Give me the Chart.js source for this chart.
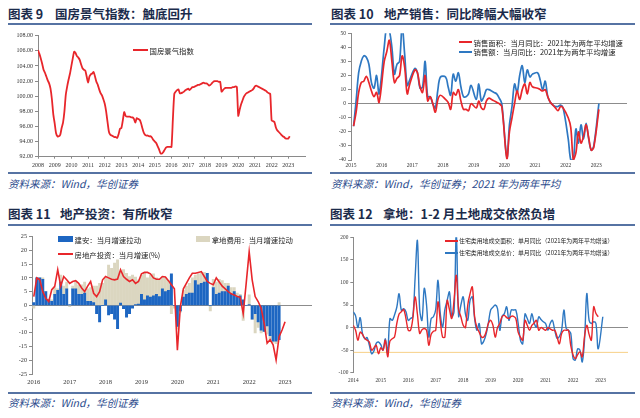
<!DOCTYPE html>
<html>
<head>
<meta charset="utf-8">
<script src="https://cdn.jsdelivr.net/npm/chart.js@4.4.0/dist/chart.umd.min.js"></script>
<style>
  body { margin: 0; background: #fff; width: 640px; height: 418px; position: relative; overflow: hidden;
         font-family: "Noto Sans CJK SC", "Noto Sans", sans-serif; }
  .abs { position: absolute; white-space: nowrap; }
  .title { font-weight: bold; font-size: 12.5px; line-height: 14px; color: #1b2b4b; }
  .rule { height: 2px; background: #5673a3; }
  .src { font-style: italic; font-size: 10.5px; line-height: 12px; color: #2a4a8c; }
  .lg { font-size: 7.4px; line-height: 9px; color: #222; }
  .lg4 { font-size: 5.9px; line-height: 8px; color: #222; }
  canvas { position: absolute; }
</style>
</head>
<body>

<!-- 图表 9 -->
<div class="abs title" style="left:8px;top:7px">图表 9</div>
<div class="abs title" style="left:55px;top:7px">国房景气指数：触底回升</div>
<div class="abs rule" style="left:8px;top:23px;width:304px"></div>
<canvas id="climateChart" width="320" height="144" style="left:0;top:28px"></canvas>
<div class="abs rule" style="left:8px;top:171.5px;width:304px"></div>
<div class="abs src" style="left:8px;top:178px">资料来源：Wind，华创证券</div>

<!-- 图表 10 -->
<div class="abs title" style="left:331px;top:7px">图表 10</div>
<div class="abs title" style="left:384px;top:7px">地产销售：同比降幅大幅收窄</div>
<div class="abs rule" style="left:330px;top:23px;width:305px"></div>
<canvas id="salesChart" width="320" height="144" style="left:320px;top:28px"></canvas>
<div class="abs rule" style="left:330px;top:171.5px;width:305px"></div>
<div class="abs src" style="left:331px;top:178px">资料来源：Wind，华创证券；2021 年为两年平均</div>

<!-- 图表 11 -->
<div class="abs title" style="left:8px;top:207px">图表 11</div>
<div class="abs title" style="left:60px;top:207px">地产投资：有所收窄</div>
<div class="abs rule" style="left:8px;top:223.5px;width:304px"></div>
<canvas id="investChart" width="320" height="164" style="left:0;top:228px"></canvas>
<div class="abs rule" style="left:8px;top:392px;width:304px"></div>
<div class="abs src" style="left:8px;top:397px">资料来源：Wind，华创证券</div>

<!-- 图表 12 -->
<div class="abs title" style="left:330px;top:207px">图表 12</div>
<div class="abs title" style="left:383px;top:207px">拿地：1-2 月土地成交依然负增</div>
<div class="abs rule" style="left:330px;top:223.5px;width:305px"></div>
<canvas id="landChart" width="320" height="164" style="left:320px;top:228px"></canvas>
<div class="abs rule" style="left:330px;top:392px;width:305px"></div>
<div class="abs src" style="left:331px;top:397px">资料来源：Wind，华创证券</div>

<div id="legends"></div>

<script>
// ---- 数据 ----
// 国房景气指数，2008年1月起按月
const climateStart = 2008;
const climateYears = [2008, 2009, 2010, 2011, 2012, 2013, 2014, 2015, 2016, 2017, 2018, 2019, 2020, 2021, 2022, 2023];
const climateIndex = [
  106.1, 105.6, 105.0, 104.3, 103.5, 103.1, 102.6, 102.1, 101.7, 101.0, 99.6, 97.6,
  96.4, 95.1, 94.7, 94.7, 94.9, 95.8, 96.5, 98.0, 100.2, 101.3, 102.2, 103.0,
  104.0, 105.0, 105.9, 105.7, 105.3, 105.1, 104.8, 104.2, 103.7, 103.5, 103.4, 102.6,
  101.8, 102.6, 102.9, 103.0, 103.2, 102.6, 101.9, 101.5, 100.9, 100.4, 100.1, 99.6,
  99.0, 98.0, 96.6, 95.3, 94.9, 94.8, 94.7, 94.6, 94.6, 94.5, 95.0, 95.7,
  95.8, 96.8, 97.9, 97.4, 97.3, 97.3, 97.3, 97.2, 97.2, 97.0, 96.5, 97.1,
  97.0, 96.9, 96.5, 95.8, 95.2, 94.9, 94.8, 94.8, 94.7, 94.7, 94.5, 94.2,
  94.0, 93.8, 93.4, 93.0, 92.5, 92.4, 92.6, 92.9, 93.2, 93.3, 93.3, 93.3,
  93.3, 97.0, 100.3, 100.6, 100.8, 100.9, 100.4, 100.4, 100.5, 100.6, 100.8, 100.9,
  101.0, 100.8, 101.0, 101.2, 101.2, 101.3, 101.4, 101.5, 101.5, 101.6, 101.7, 101.8,
  101.7, 101.7, 101.6, 101.4, 101.5, 101.7, 101.9, 102.0, 102.0, 102.0, 101.9, 101.9,
  100.6, 100.8, 101.0, 101.1, 101.1, 101.1, 101.1, 101.1, 101.2, 101.2, 101.3, 101.2,
  97.4, 98.2, 98.9, 99.4, 99.9, 100.2, 100.4, 100.5, 100.6, 100.7, 100.8, 101.0,
  101.3, 101.4, 101.3, 101.2, 101.1, 101.0, 100.9, 100.8, 100.7, 100.5, 100.4, 100.3,
  96.8, 96.7, 96.6, 95.9, 95.5, 95.3, 95.1, 94.9, 94.7, 94.6, 94.4, 94.4,
  94.4, 94.7
];

// 地产销售：当月同比（%），2015年1月起按月，1月并入2月
const salesStart = 2015;
const salesYears = [2015, 2016, 2017, 2018, 2019, 2020, 2021, 2022, 2023];
const salesArea = [
  null, -16, -6, 8, 15, 16, 19.5, 15, 9, 5, 8, 1,
  null, 30, 37, 45, 30, 15, 18, 20, 34, 26, 7, 14,
  null, 24, 22, 12, 8, 20, 2, 5, 0, -6, 3, 6,
  null, 3, 1, -4, 8, 6, 10, 2, -4, -4, -5, 0,
  null, -3, 2, -3, -4, 2, 4, 3, 2, 1, 0, -2,
  null, -39, -20, -10, 0, 9, 3, 10, 14, 7, 15, 12,
  null, 11, 10, 9, 10, 5, 1, -1, -3, -5, -2, -3,
  null, -10, -17, -40, -35, -20, -28, -23, -15, -24, -33, -31,
  null, -4
];
const salesAmount = [
  null, -16, 2, 22, 30, 34, 33, 28, 15, 11, 20, 7,
  null, 40, 55, 52, 40, 21, 28, 30, 55, 35, 13, 17,
  null, 25, 22, 11, 12, 30, 5, 5, 0, -3, 10, 19,
  null, 19, 12, 6, 21, 16, 22, 12, 5, 5, 7, 13,
  null, 3, 14, 2, 5, 10, 10, 9, 8, 7, 4, 0,
  null, -38, -15, -2, 14, 8, 20, 27, 15, 24, 19, 21,
  null, 22, 17, 10, 16, 5, 1, -1, -2, -2, -1, -3,
  null, -25, -40, -40, -18, -28, -15, -25, -14, -25, -33, -30,
  null, 0
];

// 地产投资：当月增速及拉动（%），2016年1月起按月
const investStart = 2016;
const investYears = [2016, 2017, 2018, 2019, 2020, 2021, 2022, 2023];
const investTotal = [
  3.2, 10, 9.3, 5, 2.6, 1.4, 5.7, 6.9, 13, 7, 10.5, 9.3,
  8, 8.7, 9, 8, 6.3, 5, 7, 8.7, 4.4, 3.2, 5, 9.3,
  10.5, 10, 9.5, 9.3, 9.6, 13, 10.5, 9.5, 8.7, 9.3, 8, 8.7,
  11.5, 12, 12, 11.5, 10, 9.5, 9.5, 10.5, 10.3, 9, 7.5, 6,
  -16.3, -0.4, 6, 8, 10, 11.7, 11.7, 12, 12.3, 10.5, 8.7, 8,
  7.5, 10, 8.5, 7, 6, 5, 4.2, 3.8, 3.2, 3, -3, 8,
  19.5, 9.3, 3.2, 1.4, -1, -6.5, -13.8, -12.5, -14.4, -19.9, -11.4, -9,
  -6
];
const investBuild = [
  1, 10, 10, 9.5, 5, 2, 1.5, 4, 5.5, 8.5, 4, 6,
  0.3, 6, 6, 4, 4, 4.5, 1.5, 1.5, 1, -3, -6, 0,
  2, -3.5, -3, -5, -8.5, 0.8, -1.2, -4.3, -3, -1, 0.3, 0.5,
  4, 2, 3.5, 3, 3.5, 4, 3.2, 6, 5, 5.5, 11.5, 0,
  -7.7, -2, 3, 4, 4.5, 4.5, 9, 7.5, 8, 8.5, 11.7, 0,
  6.5, 4, 4.5, 5, 5, 7, 4, 5, 3, 3.5, 2, 0,
  0.3, -5, -3, -6, -9, -9.5, -7.5, -11, -13, -13, -12.5
];
const investLand = [
  -1, 0, 0, 0.5, 0, 0.3, 0.5, 2.5, 0.5, 2.5, 3, 2.5,
  -0.5, 1, 2.5, 3.5, 3.5, 4, 4.5, 5, 6, 7, 8, 8,
  8, 14.7, 13.5, 15.4, 16.6, 11.5, 13, 11.7, 10.5, 11, 10, 8.7,
  7, 10, 6.5, 8, 8, 6, 6.3, 4.5, 5, 3.5, -3, -1,
  -1, -0.5, 2.5, 3, 3.5, 5.5, 2, 4, 4, 3.5, 0, -2,
  3, 4.5, 5, 4, 3, 1, 2.5, 1.5, 1.5, 0.5, -5.5, 0,
  3.5, 0, -7, -2, -1, 0, -3, -1.5, -0.5, -1, 1
];

// 住宅类用地成交：单月同比（%），2014年1月起按月
const landStart = 2014;
const landYears = [2014, 2015, 2016, 2017, 2018, 2019, 2020, 2021, 2022, 2023];
const landArea = [
  5, -6, -28, -10, -15, -24, -28, -32, -50, -45, -39, -58,
  -45, -50, -28, -65, -30, -25, -21, 9, 30, 35, 40, 20,
  -6, -6, 20, 68, 30, -13, -5, -2, -6, -39, -15, -8,
  -6, 57, 15, -21, -21, 60, 40, 20, 60, 116, 40, 24,
  5, 0, 50, 75, 90, 24, 0, -10, -21, -21, -10, 9,
  16, 5, -21, 0, 9, 24, 27, 22, 20, 25, 25, 20,
  -10, -21, -28, 16, 5, -6, 5, 10, 16, -6, 0, -3,
  -6, 0, -3, -6, -6, -20, -36, -13, -6, -6, -6, -40,
  -61, -69, -60, -54, -65, -20, 5, -15, -28, 46, 31, 24
];
const landPrice = [
  35, 26, 0, 22, -13, -25, -22, -39, -58, -52, -35, -32,
  -38, -50, -25, -55, 20, 16, 28, 45, 75, 38, 42, 35,
  16, 20, 24, 110, 193, 40, 16, 87, 50, -21, 20, 24,
  40, 105, 31, 1, 40, 60, 79, 24, 35, 210, 25, 50,
  68, 30, 16, 60, 68, 20, -6, 9, -36, -30, -15, 10,
  39, 45, 50, 42, -6, 25, 31, 46, 16, 39, 39, 39,
  10, -28, -36, 30, 20, 9, 31, 10, 1, 24, 18, 13,
  9, -6, 9, 16, -6, -24, -20, -6, 39, -2, -6, -13,
  -69, -72, -47, -50, -76, -28, 75, 16, 9, 13, 9, -47,
  null, 24
];
const landFloor = -55;

// ---- 样式 ----
const RED = '#e8262b';
const BLUE = '#2e78c2';
const BAR_BLUE = '#1d66c2';
const BAR_TAN = '#dbd6c0';
const AXIS = '#8a8a8a';
const serif = '"Liberation Serif", "Times New Roman", serif';

// 按月序列转为坐标点
const monthly = (start, values) =>
  values.map((v, i) => ({ x: start + i / 12, y: v })).filter(p => p.y !== null);

const yearAxis = (min, max, years, o) => ({
  type: 'linear', min, max, offset: false, stacked: !!o.stacked,
  afterBuildTicks: s => { s.ticks = years.map(value => ({ value })); },
  afterFit: s => { s.height = o.h; },
  ticks: { autoSkip: false, maxRotation: 0, padding: o.pad, color: '#333',
           font: { family: serif, size: o.size }, callback: v => String(v) },
  grid: { display: o.marks, drawTicks: o.marks, drawOnChartArea: false, tickLength: 2, color: AXIS },
  border: { display: o.marks, color: AXIS }
});

const valueAxis = (min, max, step, o) => ({
  min, max, stacked: !!o.stacked,
  afterFit: s => { s.width = o.w; },
  ticks: { stepSize: step, padding: 2, color: '#333',
           font: { family: serif, size: o.size }, callback: o.fmt || (v => String(v)) },
  grid: { drawOnChartArea: !!o.zero, tickLength: 3, tickColor: AXIS, lineWidth: 1,
          color: c => (c.tick && c.tick.value === 0) ? '#8c8c8c' : 'rgba(0,0,0,0)' },
  border: { color: AXIS }
});

const baseOptions = (padding, scales) => ({
  responsive: false, animation: false, devicePixelRatio: 1,
  layout: { padding },
  plugins: { legend: { display: false }, tooltip: { enabled: false } },
  elements: { point: { radius: 0 } },
  scales
});

const lineSet = (label, data, color, width, tension) => ({
  type: 'line', label, data, borderColor: color, backgroundColor: color,
  borderWidth: width, tension, pointRadius: 0, fill: false, order: 0
});

// ---- 图表 9 ----
new Chart(document.getElementById('climateChart'), {
  type: 'line',
  data: { datasets: [lineSet('国房景气指数', monthly(climateStart, climateIndex), RED, 1.8, 0.2)] },
  options: baseOptions({ left: 0, top: 7.7, right: 15, bottom: 0 }, {
    x: yearAxis(2008, 2024, climateYears, { h: 15.3, pad: 2.7, size: 6, marks: true }),
    y: valueAxis(92, 108, 2, { w: 38, size: 6, fmt: v => v.toFixed(2) })
  })
});

// ---- 图表 10 ----
new Chart(document.getElementById('salesChart'), {
  type: 'line',
  data: { datasets: [
    lineSet('销售面积：当月同比：2021年为两年平均增速', monthly(salesStart, salesArea), RED, 1.7, 0.35),
    lineSet('销售额：当月同比：2021年为两年平均增速', monthly(salesStart, salesAmount), BLUE, 1.7, 0.35)
  ] },
  options: baseOptions({ left: 0, top: 3, right: 13, bottom: 0 }, {
    x: yearAxis(2015, 2024, salesYears, { h: 12, pad: 2.4, size: 5.5, marks: false }),
    y: valueAxis(-40, 50, 10, { w: 31, size: 5.5, zero: true })
  })
});

// ---- 图表 11 ----
new Chart(document.getElementById('investChart'), {
  type: 'bar',
  data: { datasets: [
    lineSet('房地产投资：当月增速(%)', monthly(investStart, investTotal), RED, 1.6, 0),
    { type: 'bar', label: '建安：当月增速拉动', data: monthly(investStart, investBuild),
      backgroundColor: BAR_BLUE, barThickness: 2.3, stack: 'pull', order: 1 },
    { type: 'bar', label: '拿地费用：当月增速拉动', data: monthly(investStart, investLand),
      backgroundColor: BAR_TAN, barThickness: 2.3, stack: 'pull', order: 1 }
  ] },
  options: baseOptions({ left: 0, top: 8.7, right: 8, bottom: 0 }, {
    x: yearAxis(2015.95, 2023.75, investYears, { h: 18, pad: 4.8, size: 6.5, marks: false, stacked: true }),
    y: valueAxis(-25, 25, 5, { w: 32, size: 6.2, zero: true, stacked: true })
  })
});

// ---- 图表 12 ----
const landFloorLine = [landStart, 2024].map(x => ({ x, y: landFloor }));
new Chart(document.getElementById('landChart'), {
  type: 'line',
  data: { datasets: [
    lineSet('住宅类用地成交面积：单月同比（2021年为两年平均增速）', monthly(landStart, landArea), RED, 1.4, 0.35),
    lineSet('住宅类用地成交总价：单月同比（2021年为两年平均增速）', monthly(landStart, landPrice), BLUE, 1.4, 0.35),
    Object.assign(lineSet('', landFloorLine, '#f5c46a', 0.8, 0), { order: 2 })
  ] },
  options: baseOptions({ left: 0, top: 9.3, right: 12, bottom: 0 }, {
    x: yearAxis(2014, 2024, landYears, { h: 19.3, pad: 4.7, size: 5.3, marks: false }),
    y: valueAxis(-100, 200, 50, { w: 33.3, size: 5.3, zero: true })
  })
});

// ---- 图例（HTML 文字） ----
const legendItems = [
  { kind: 'line', color: RED, x: 133, y: 50, w: 15, text: '国房景气指数', cls: 'lg' },
  { kind: 'line', color: RED, x: 459, y: 42, w: 13, text: '销售面积：当月同比：2021年为两年平均增速', cls: 'lg' },
  { kind: 'line', color: BLUE, x: 459, y: 51.7, w: 13, text: '销售额：当月同比：2021年为两年平均增速', cls: 'lg' },
  { kind: 'box', color: BAR_BLUE, x: 58, y: 239, w: 15, text: '建安：当月增速拉动', cls: 'lg' },
  { kind: 'box', color: BAR_TAN, x: 195.7, y: 239, w: 14.5, text: '拿地费用：当月增速拉动', cls: 'lg' },
  { kind: 'line', color: RED, x: 58, y: 254, w: 15, text: '房地产投资：当月增速(%)', cls: 'lg' },
  { kind: 'line', color: RED, x: 445, y: 240.7, w: 12.5, text: '住宅类用地成交面积：单月同比（2021年为两年平均增速）', cls: 'lg4' },
  { kind: 'line', color: BLUE, x: 445, y: 253, w: 12.5, text: '住宅类用地成交总价：单月同比（2021年为两年平均增速）', cls: 'lg4' }
];
const holder = document.getElementById('legends');
legendItems.forEach(it => {
  const sw = document.createElement('div');
  sw.className = 'abs';
  const h = it.kind === 'box' ? 5.5 : 2;
  sw.style.cssText = `left:${it.x}px;top:${it.y - h / 2}px;width:${it.w}px;height:${h}px;background:${it.color}`;
  const tx = document.createElement('div');
  tx.className = 'abs ' + it.cls;
  const lh = it.cls === 'lg' ? 9 : 8;
  tx.style.cssText = `left:${it.x + it.w + 1.5}px;top:${it.y - lh / 2}px`;
  tx.textContent = it.text;
  holder.appendChild(sw);
  holder.appendChild(tx);
});
</script>
</body>
</html>
